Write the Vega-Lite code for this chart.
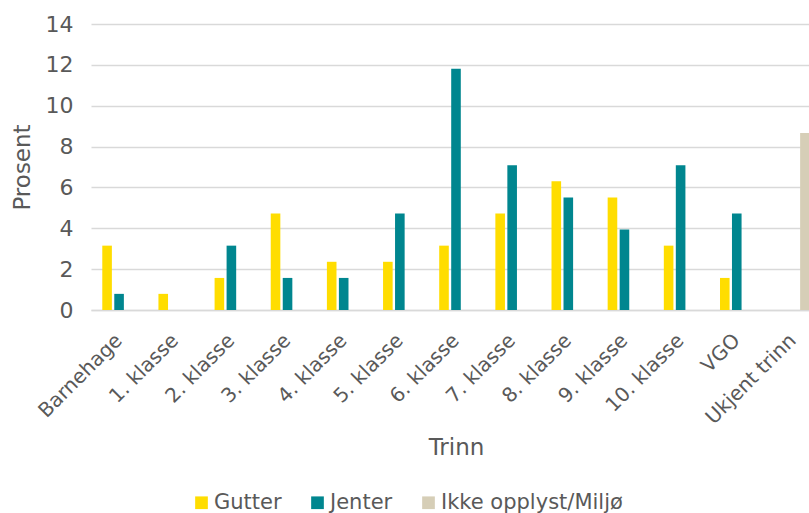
{
  "$schema": "https://vega.github.io/schema/vega-lite/v6.json",
  "width": 730,
  "height": 286,
  "autosize": {"type": "none"},
  "padding": {"left": 91, "top": 24, "right": 0, "bottom": 203},
  "background": "white",
  "config": {
    "view": {"stroke": null},
    "font": "DejaVu Sans",
    "axis": {"labelColor": "#595959", "titleColor": "#595959", "labelFont": "DejaVu Sans", "titleFont": "DejaVu Sans", "titleFontWeight": "normal"},
    "legend": {"labelColor": "#595959", "labelFont": "DejaVu Sans"}
  },
  "data": {
    "values": [
      {"trinn": "Barnehage", "gruppe": "Gutter", "prosent": 3.15},
      {"trinn": "Barnehage", "gruppe": "Jenter", "prosent": 0.79},
      {"trinn": "1. klasse", "gruppe": "Gutter", "prosent": 0.79},
      {"trinn": "2. klasse", "gruppe": "Gutter", "prosent": 1.57},
      {"trinn": "2. klasse", "gruppe": "Jenter", "prosent": 3.15},
      {"trinn": "3. klasse", "gruppe": "Gutter", "prosent": 4.72},
      {"trinn": "3. klasse", "gruppe": "Jenter", "prosent": 1.57},
      {"trinn": "4. klasse", "gruppe": "Gutter", "prosent": 2.36},
      {"trinn": "4. klasse", "gruppe": "Jenter", "prosent": 1.57},
      {"trinn": "5. klasse", "gruppe": "Gutter", "prosent": 2.36},
      {"trinn": "5. klasse", "gruppe": "Jenter", "prosent": 4.72},
      {"trinn": "6. klasse", "gruppe": "Gutter", "prosent": 3.15},
      {"trinn": "6. klasse", "gruppe": "Jenter", "prosent": 11.81},
      {"trinn": "7. klasse", "gruppe": "Gutter", "prosent": 4.72},
      {"trinn": "7. klasse", "gruppe": "Jenter", "prosent": 7.09},
      {"trinn": "8. klasse", "gruppe": "Gutter", "prosent": 6.3},
      {"trinn": "8. klasse", "gruppe": "Jenter", "prosent": 5.51},
      {"trinn": "9. klasse", "gruppe": "Gutter", "prosent": 5.51},
      {"trinn": "9. klasse", "gruppe": "Jenter", "prosent": 3.94},
      {"trinn": "10. klasse", "gruppe": "Gutter", "prosent": 3.15},
      {"trinn": "10. klasse", "gruppe": "Jenter", "prosent": 7.09},
      {"trinn": "VGO", "gruppe": "Gutter", "prosent": 1.57},
      {"trinn": "VGO", "gruppe": "Jenter", "prosent": 4.72},
      {"trinn": "Ukjent trinn", "gruppe": "Ikke opplyst/Miljø", "prosent": 8.66}
    ]
  },
  "mark": {"type": "bar"},
  "encoding": {
    "x": {
      "field": "trinn",
      "type": "nominal",
      "sort": ["Barnehage", "1. klasse", "2. klasse", "3. klasse", "4. klasse", "5. klasse", "6. klasse", "7. klasse", "8. klasse", "9. klasse", "10. klasse", "VGO", "Ukjent trinn"],
      "scale": {"paddingInner": 0, "paddingOuter": 0},
      "axis": {
        "title": "Trinn",
        "titleFontSize": 23,
        "titlePadding": 9,
        "labelFontSize": 20,
        "labelAngle": -45,
        "labelAlign": "right",
        "labelBaseline": "middle",
        "labelPadding": 27,
        "ticks": false,
        "domain": true,
        "domainColor": "#d9d9d9",
        "domainWidth": 1.5,
        "grid": false
      }
    },
    "xOffset": {
      "field": "gruppe",
      "type": "nominal",
      "scale": {"domain": ["Gutter", "Jenter", "Ikke opplyst/Miljø"], "paddingInner": 0.2, "paddingOuter": 0.94}
    },
    "y": {
      "field": "prosent",
      "type": "quantitative",
      "scale": {"domain": [0, 14]},
      "axis": {
        "title": "Prosent",
        "titleFontSize": 23,
        "titlePadding": 11,
        "labelFontSize": 22,
        "labelPadding": 18,
        "values": [0, 2, 4, 6, 8, 10, 12, 14],
        "ticks": false,
        "domain": false,
        "grid": true,
        "gridColor": "#d9d9d9",
        "gridWidth": 1.5
      }
    },
    "color": {
      "field": "gruppe",
      "type": "nominal",
      "scale": {"domain": ["Gutter", "Jenter", "Ikke opplyst/Miljø"], "range": ["#FFDD00", "#00868F", "#D6CEB7"]},
      "legend": {
        "title": null,
        "orient": "none",
        "direction": "horizontal",
        "legendX": 100,
        "legendY": 468,
        "padding": 0,
        "symbolType": "square",
        "symbolSize": 161,
        "symbolStrokeWidth": 0,
        "labelFontSize": 21,
        "labelOffset": 2,
        "labelLimit": 400,
        "columnPadding": 25
      }
    }
  }
}
